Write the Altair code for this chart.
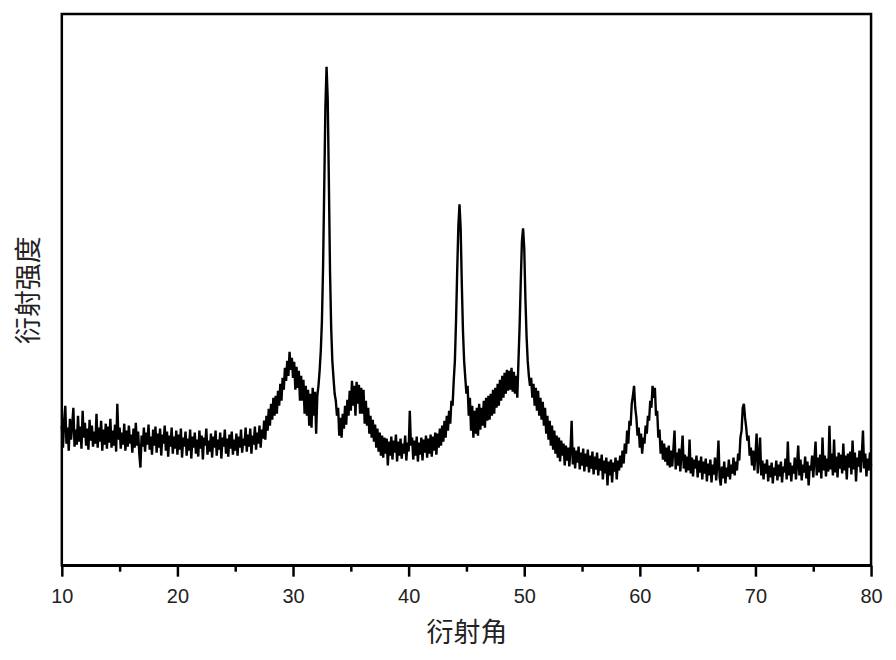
import altair as alt
import pandas as pd

# Diffraction angle sampling: each segment starts at the given angle, step 0.1 deg
STEP = 0.1

seg_10 = [140,118,145,160,122,138,115,147,126,141,
          158,119,136,121,150,124,139,117,155,128,
          143,120,137,116,146,125,140,119,134,122,
          152,118,138,124,145,115,136,121,142,117,
          139,123,147,118,135,120,141,114,162,126]
seg_15 = [138,117,133,121,142,115,135,119,140,122,
          131,113,137,118,143,120,134,112,98,130,
          119,138,114,133,121,141,116,129,111,136,
          120,139,113,132,118,137,110,131,122,140,
          115,134,109,130,119,138,112,129,117,135]
seg_20 = [111,131,116,137,108,128,119,134,110,127,
          115,136,107,129,118,133,112,126,109,135,
          117,130,106,128,120,137,111,125,114,132,
          108,129,118,135,110,126,116,133,107,128,
          119,136,112,127,109,131,117,134,111,126]
seg_25 = [115,132,110,129,118,136,113,127,120,138,
          114,131,119,137,112,130,121,139,116,133,
          122,140,118,136,127,145,126,150,135,157,
          140,162,146,168,150,170,152,175,160,182,
          165,188,176,198,185,205,190,214,196,208]
seg_30 = [188,204,176,199,178,195,165,190,165,186,
          152,180,150,176,140,172,138,178,150,174,
          132,170,180,195,215,245,300,380,460,500,
          468,385,295,238,205,188,172,165,150,158,
          130,148,128,152,137,160,141,166,150,175]
seg_35 = [155,185,160,180,150,184,162,181,152,178,
          152,176,142,165,140,158,132,150,128,146,
          124,141,118,137,114,133,110,130,108,128,
          112,127,100,124,110,129,106,125,113,131,
          104,124,110,127,107,122,112,130,105,123]
seg_40 = [114,155,120,128,106,125,110,129,104,123,
          111,128,105,126,113,130,108,127,112,131,
          109,129,115,133,111,132,118,137,120,140,
          124,145,128,150,135,155,142,165,160,185,
          205,245,295,340,362,338,282,235,205,188]
seg_45 = [172,180,150,168,135,160,128,155,132,158,
          130,162,136,158,140,165,138,168,145,170,
          146,172,150,176,152,178,158,182,160,186,
          165,190,168,193,172,196,175,195,176,198,
          174,194,172,190,168,205,240,285,325,338]
seg_50 = [318,268,230,205,190,180,188,168,182,160,
          178,155,175,150,168,146,164,140,158,132,
          150,126,145,120,140,116,135,112,130,108,
          128,104,125,110,122,100,120,105,118,99,
          116,145,101,118,97,115,103,119,96,113]
seg_55 = [100,117,94,112,99,116,93,110,97,114,
          91,109,96,113,90,107,95,111,86,105,
          92,108,80,104,90,106,83,103,94,108,
          86,105,95,110,98,115,102,122,112,135,
          122,145,140,162,170,180,158,148,130,138]
seg_60 = [118,132,112,128,122,140,132,150,145,165,
          158,180,168,178,150,155,128,136,112,125,
          106,122,104,118,100,120,98,115,99,116,
          135,96,113,100,117,94,112,130,97,111,
          93,109,95,126,92,108,89,106,97,110]
seg_65 = [88,105,93,109,86,104,92,107,84,102,
          90,106,83,101,91,108,85,100,125,88,
          80,99,87,104,82,98,89,106,86,101,
          92,108,90,104,95,112,105,128,135,158,
          162,148,138,125,130,110,118,100,115,95]
seg_70 = [110,132,92,108,128,90,105,86,102,92,
          106,84,100,88,103,82,98,90,105,85,
          101,89,104,83,99,93,107,86,124,90,
          103,84,100,92,108,86,102,120,90,106,
          85,101,93,109,87,104,80,100,95,110]
seg_75 = [88,106,124,90,108,93,111,87,128,95,
          110,89,107,94,140,96,112,90,126,93,
          109,88,113,97,111,92,122,95,110,86,
          112,98,114,91,125,96,113,84,108,99,
          115,93,110,135,97,112,89,107,95,113,
          100]

segments = [(10, seg_10), (15, seg_15), (20, seg_20), (25, seg_25),
            (30, seg_30), (35, seg_35), (40, seg_40), (45, seg_45),
            (50, seg_50), (55, seg_55), (60, seg_60), (65, seg_65),
            (70, seg_70), (75, seg_75)]

x_ticks = [10, 15, 20, 25, 30, 35, 40, 45, 50, 55, 60, 65, 70, 75, 80]

rows = []
for start, vals in segments:
    for i, v in enumerate(vals):
        rows.append({"angle": round(start + i * STEP, 1), "intensity": v})
df = pd.DataFrame(rows)

cjk = "Noto Sans CJK SC"
num = "Liberation Sans"

chart = alt.Chart(df).mark_line(color="black", strokeWidth=2.4).encode(
    x=alt.X("angle:Q",
            scale=alt.Scale(domain=[10, 80], nice=False, zero=False),
            axis=alt.Axis(values=x_ticks, title="衍射角",
                          labelExpr="datum.value % 10 === 0 ? datum.label : ''",
                          labelFlush=False,
                          tickSize={"condition": {"test": "datum.value % 10 === 0", "value": 11}, "value": 6},
                          tickWidth=2.5, tickColor="black",
                          domainColor="black", domainWidth=2.5,
                          labelFont=num, labelFontSize=20, labelColor="#222",
                          labelPadding=10, grid=False,
                          titleFont=cjk, titleFontSize=27, titleFontWeight="normal",
                          titleColor="#222", titlePadding=15)),
    y=alt.Y("intensity:Q",
            scale=alt.Scale(domain=[0, 553], nice=False),
            axis=alt.Axis(title="衍射强度", labels=False, ticks=False, domain=False,
                          grid=False, titleFont=cjk, titleFontSize=27,
                          titleFontWeight="normal", titleColor="#222",
                          titlePadding=18)),
).properties(
    width=812, height=553,
    padding={"left": 8, "top": 5, "right": 5, "bottom": 5},
).configure_view(
    stroke="black", strokeWidth=2.5
)

chart.save("out.html", embed_options={"renderer": "svg", "actions": False})
